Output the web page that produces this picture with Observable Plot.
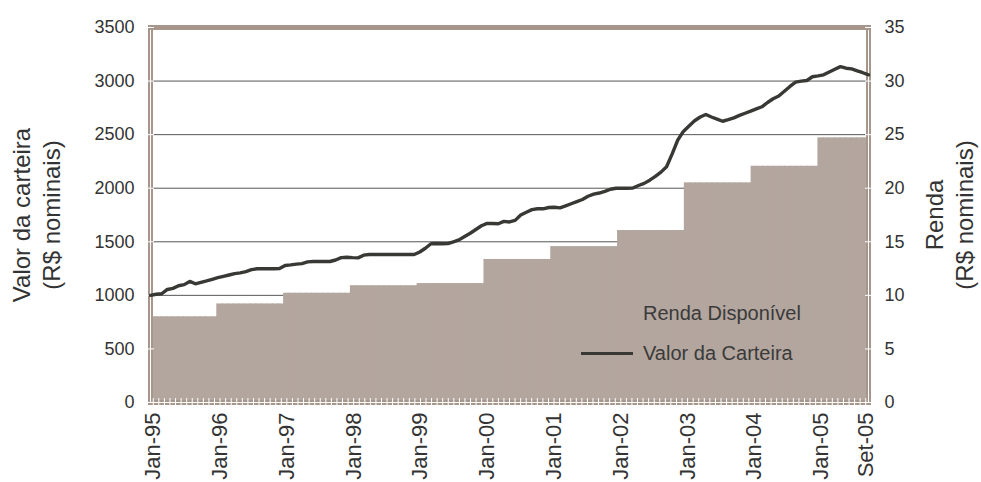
<!DOCTYPE html>
<html><head><meta charset="utf-8">
<script src="https://cdn.jsdelivr.net/npm/d3@7"></script>
<script src="https://cdn.jsdelivr.net/npm/@observablehq/plot@0.6"></script>
<style>
body{margin:0;background:#fff;font-family:"Liberation Sans",Arial,sans-serif}
#wrap{position:relative;width:981px;height:482px;overflow:hidden}
#wrap svg{position:absolute;left:0;top:0}
.leg{position:absolute;font-size:20px;color:#3a3a3a;white-space:nowrap;line-height:1}
.sw{position:absolute;height:3px;background:#383834}
</style></head><body><div id="wrap"></div>
<script>
// ---- Dados ----
const mesesPt = ["Jan","Fev","Mar","Abr","Mai","Jun","Jul","Ago","Set","Out","Nov","Dez"];
const anos = [1995,1996,1997,1998,1999,2000,2001,2002,2003,2004,2005];
const mesesPorAno = [12,12,12,12,12,12,12,12,12,12,9];
// Renda Disponível (R$ nominais), eixo direito
const rendaAnual = [8.0, 9.2, 10.2, 10.9, 11.1, 13.35, 14.55, 16.05, 20.5, 22.05, 24.7];
// Valor da Carteira (R$ nominais), eixo esquerdo, mensal Jan-95 .. Set-05
const valorCarteira = [
  1000,1010,1015,1055,1065,1090,1100,1130,1108,1122,1135,1150,
  1165,1178,1190,1203,1210,1222,1240,1248,1248,1248,1248,1250,
  1279,1284,1292,1296,1312,1316,1316,1316,1316,1330,1352,1356,
  1352,1350,1375,1381,1381,1381,1381,1381,1381,1381,1381,1381,
  1405,1440,1482,1484,1481,1483,1500,1518,1550,1580,1615,1650,
  1672,1670,1668,1690,1685,1700,1750,1776,1800,1808,1808,1820,
  1822,1817,1835,1855,1875,1895,1925,1945,1955,1970,1990,2000,
  2000,2000,2002,2025,2045,2075,2110,2150,2200,2320,2450,2530,
  2580,2630,2665,2688,2665,2645,2625,2640,2657,2680,2700,2720,
  2740,2760,2800,2835,2860,2905,2950,2990,3000,3005,3040,3048,
  3058,3085,3110,3135,3120,3114,3095,3078,3058
];
const tickMeses = ["Jan-95","Jan-96","Jan-97","Jan-98","Jan-99","Jan-00","Jan-01","Jan-02","Jan-03","Jan-04","Jan-05","Set-05"];
const ticksEsq = [0,500,1000,1500,2000,2500,3000,3500];
const ticksDir = [0,5,10,15,20,25,30,35];
const gradeDir = [5,10,15,20,25,30];

// ---- Tabela mensal ----
const meses = [];
anos.forEach((a, k) => {
  for (let m = 0; m < mesesPorAno[k]; m++) {
    meses.push({mes: mesesPt[m] + "-" + String(a).slice(2), renda: rendaAnual[k]});
  }
});
meses.forEach((d, i) => d.valor = valorCarteira[i]);
const dominio = meses.map(d => d.mes);

const W = 981, H = 482;
const margens = {marginLeft: 150, marginRight: 113, marginTop: 27, marginBottom: 80};
const corBarra = "#b3a69e", corMoldura = "#a6968c", corTexto = "#333333";
const estilo = {fontFamily: "Liberation Sans, Arial, sans-serif", fontSize: "18px", color: corTexto, background: "transparent", overflow: "visible"};

const plotA = Plot.plot({
  width: W, height: H, ...margens, style: estilo,
  x: {type: "band", domain: dominio, padding: 0},
  y: {domain: [0, 35]},
  marks: [
    Plot.ruleY(gradeDir, {stroke: "#555", strokeWidth: 1}),
    Plot.barY(meses, {x: "mes", y: "renda", fill: corBarra, insetLeft: -0.5, insetRight: -0.5, insetTop: 0, insetBottom: 0}),
    Plot.frame({stroke: corMoldura, strokeWidth: 5}),
    Plot.ruleX(meses, {x: "mes", y1: 0, y2: 0, insetTop: -4, insetBottom: -4, stroke: "white"}),
    Plot.axisY({anchor: "right", ticks: ticksDir, tickSize: 8, dx: -4, stroke: "white", tickFormat: () => "", label: null}),
    Plot.axisY({anchor: "right", ticks: ticksDir, tickSize: 0, tickPadding: 16, fontSize: 18, fill: corTexto, label: null, tickFormat: d => String(d)}),
    Plot.axisX({ticks: tickMeses, tickSize: 0, tickPadding: 10, tickRotate: -90, fontSize: 22, fill: corTexto, label: null}),
    Plot.text(["Renda"], {text: d => d, frameAnchor: "right", textAnchor: "middle", rotate: -90, dx: 67, fontSize: 24, fill: corTexto}),
    Plot.text(["(R$ nominais)"], {text: d => d, frameAnchor: "right", textAnchor: "middle", rotate: -90, dx: 97, fontSize: 24, fill: corTexto})
  ]
});

const plotB = Plot.plot({
  width: W, height: H, ...margens, style: estilo,
  x: {type: "point", domain: dominio, padding: 0, axis: null},
  y: {domain: [0, 3500]},
  marks: [
    Plot.ruleX([dominio[0], dominio[dominio.length - 1]], {stroke: "white", insetTop: 3}),
    Plot.ruleY([0], {stroke: "white"}),
    Plot.axisY({ticks: ticksEsq, tickSize: 8, dx: 4, stroke: "white", tickFormat: () => "", label: null}),
    Plot.axisY({ticks: ticksEsq, tickSize: 0, tickPadding: 16, fontSize: 18, fill: corTexto, label: null, tickFormat: d => String(d)}),
    Plot.line(meses, {x: "mes", y: "valor", stroke: "#383834", strokeWidth: 3.4}),
    Plot.text(["Valor da carteira"], {text: d => d, frameAnchor: "left", textAnchor: "middle", rotate: -90, dx: -128, fontSize: 24, fill: corTexto}),
    Plot.text(["(R$ nominais)"], {text: d => d, frameAnchor: "left", textAnchor: "middle", rotate: -90, dx: -98, fontSize: 24, fill: corTexto})
  ]
});

const wrap = document.getElementById("wrap");
wrap.appendChild(plotA);
wrap.appendChild(plotB);

// Legenda
const l1 = document.createElement("div"); l1.className = "leg"; l1.textContent = "Renda Disponível";
l1.style.left = "643px"; l1.style.top = "303px"; wrap.appendChild(l1);
const sw = document.createElement("div"); sw.className = "sw";
sw.style.left = "581px"; sw.style.top = "352px"; sw.style.width = "52px"; wrap.appendChild(sw);
const l2 = document.createElement("div"); l2.className = "leg"; l2.textContent = "Valor da Carteira";
l2.style.left = "643px"; l2.style.top = "343px"; wrap.appendChild(l2);
</script>
</body></html>
